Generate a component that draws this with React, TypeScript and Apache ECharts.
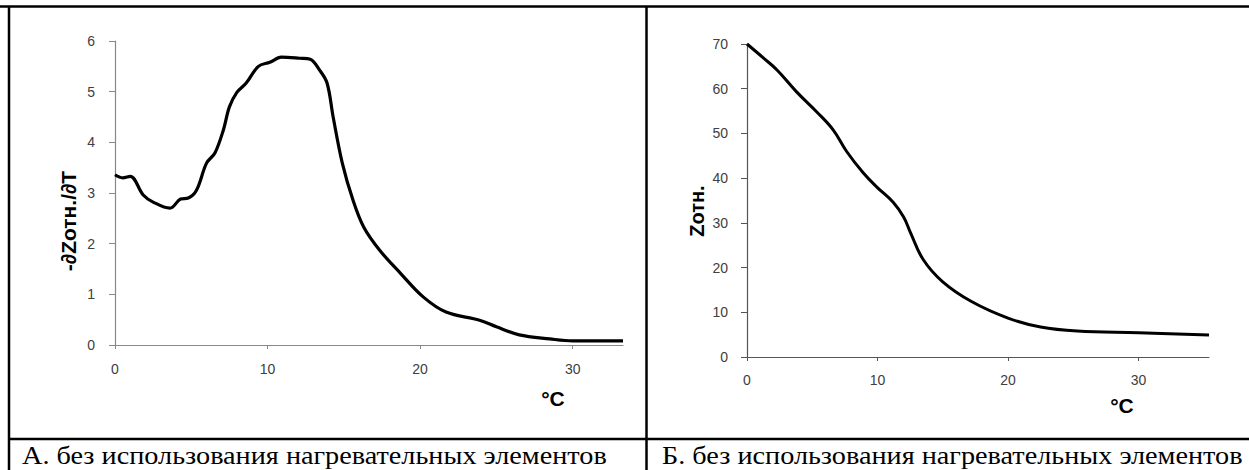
import React, { useEffect, useRef } from "react";
import * as echarts from "echarts";

// Left panel: -dZ/dT vs temperature
const leftT = [0, 0.5, 1, 1.85, 2.5, 3.6, 4.3, 4.8, 5.35, 6.0, 6.55, 7.1, 7.5, 8.0, 8.6, 9.4, 10.15, 10.9, 12.1, 12.8, 13.4, 13.9, 14.3, 14.9, 15.6, 16.3, 17.35, 18.7, 20.2, 21.7, 23.9, 25.0, 26.5, 28.5, 30, 33.3];
const leftV = [3.36, 3.3, 3.33, 2.96, 2.82, 2.7, 2.88, 2.9, 3.06, 3.59, 3.79, 4.24, 4.7, 4.99, 5.17, 5.5, 5.58, 5.68, 5.66, 5.64, 5.43, 5.17, 4.5, 3.59, 2.86, 2.33, 1.87, 1.42, 0.95, 0.65, 0.49, 0.36, 0.2, 0.12, 0.08, 0.08];

// Right panel: Z vs temperature
const rightT = [0, 1.25, 2.3, 3.8, 5.35, 6.6, 7.65, 8.9, 9.95, 11.2, 12.0, 12.5, 13.5, 15.0, 17.2, 20, 22.5, 25.3, 30, 35.4];
const rightV = [70, 66.9, 64.2, 59.3, 54.8, 50.8, 45.9, 41.2, 38.0, 34.6, 31.3, 28.0, 21.8, 16.8, 12.4, 8.7, 6.7, 5.8, 5.4, 4.9];

const xTicks = [0, 10, 20, 30];
const leftYTicks = [0, 1, 2, 3, 4, 5, 6];
const rightYTicks = [0, 10, 20, 30, 40, 50, 60, 70];

const leftYName = "-∂Zотн./∂T";
const rightYName = "Zотн.";
const xName = "°C";
const captionA = "А. без использования нагревательных элементов";
const captionB = "Б. без использования нагревательных элементов";

const SANS = "Liberation Sans, Arial, sans-serif";
const SERIF = "Liberation Serif, Times New Roman, serif";

export default function App() {
  const ref = useRef<HTMLDivElement>(null);
  useEffect(() => {
    if (!ref.current) return;
    const chart = echarts.init(ref.current, null, { renderer: "svg" });
    const lblColor = "#404040";
    const mkX = (gi: number, max: number, axisColor: string, margin: number) => ({
      type: "value",
      gridIndex: gi,
      min: 0,
      max,
      splitLine: { show: false },
      axisLine: { show: true, onZero: false, lineStyle: { color: axisColor, width: 1.2 } },
      axisTick: { show: true, length: 4, lineStyle: { color: axisColor }, customValues: xTicks },
      axisLabel: { color: lblColor, fontFamily: SANS, fontSize: 14, margin, customValues: xTicks },
    });
    const mkY = (gi: number, max: number, ticks: number[], axisColor: string, margin: number) => ({
      type: "value",
      gridIndex: gi,
      min: 0,
      max,
      splitLine: { show: false },
      axisLine: { show: true, lineStyle: { color: axisColor, width: 1.2 } },
      axisTick: { show: true, length: 6, lineStyle: { color: axisColor }, customValues: ticks },
      axisLabel: { color: lblColor, fontFamily: SANS, fontSize: 14, margin, customValues: ticks },
    });
    const lineStyleG = { stroke: "#000", lineWidth: 2.5 };
    chart.setOption({
      animation: false,
      backgroundColor: "#fff",
      grid: [
        { left: 115, top: 41, width: 508, height: 304 },
        { left: 747, top: 44, width: 462, height: 313 },
      ],
      xAxis: [mkX(0, 33.3, "#888", 17), mkX(1, 35.4, "#555", 16)],
      yAxis: [mkY(0, 6, leftYTicks, "#888", 20), mkY(1, 70, rightYTicks, "#555", 19)],
      series: [
        {
          type: "line",
          xAxisIndex: 0,
          yAxisIndex: 0,
          data: leftT.map((t, i) => [t, leftV[i]]),
          smooth: 0.35,
          showSymbol: false,
          lineStyle: { color: "#000", width: 3.2 },
        },
        {
          type: "line",
          xAxisIndex: 1,
          yAxisIndex: 1,
          data: rightT.map((t, i) => [t, rightV[i]]),
          smooth: 0.4,
          showSymbol: false,
          lineStyle: { color: "#000", width: 3 },
        },
      ],
      graphic: [
        { type: "line", shape: { x1: 0, y1: 6.5, x2: 1249, y2: 6.5 }, style: lineStyleG },
        { type: "line", shape: { x1: 9, y1: 6, x2: 9, y2: 470 }, style: lineStyleG },
        { type: "line", shape: { x1: 646.5, y1: 6, x2: 646.5, y2: 470 }, style: lineStyleG },
        { type: "line", shape: { x1: 8, y1: 439, x2: 1249, y2: 439 }, style: lineStyleG },
        {
          type: "text",
          x: 68,
          y: 221,
          rotation: Math.PI / 2,
          style: { text: leftYName, font: `bold 21px ${SANS}`, fill: "#000", align: "center", verticalAlign: "middle" },
        },
        {
          type: "text",
          x: 697,
          y: 211,
          rotation: Math.PI / 2,
          style: { text: rightYName, font: `bold 20px ${SANS}`, fill: "#000", align: "center", verticalAlign: "middle" },
        },
        {
          type: "text",
          x: 553,
          y: 398,
          style: { text: xName, font: `bold 21px ${SANS}`, fill: "#000", align: "center", verticalAlign: "middle" },
        },
        {
          type: "text",
          x: 1122,
          y: 405,
          style: { text: xName, font: `bold 21px ${SANS}`, fill: "#000", align: "center", verticalAlign: "middle" },
        },
        {
          type: "text",
          x: 22,
          y: 456,
          scaleX: 1.13,
          style: { text: captionA, font: `25px ${SERIF}`, fill: "#000", align: "left", verticalAlign: "middle" },
        },
        {
          type: "text",
          x: 662,
          y: 456,
          scaleX: 1.13,
          style: { text: captionB, font: `25px ${SERIF}`, fill: "#000", align: "left", verticalAlign: "middle" },
        },
      ],
    });
    return () => chart.dispose();
  }, []);
  return (
    <div
      ref={ref}
      style={{ position: "absolute", left: 0, top: 0, width: 1249, height: 470, background: "#fff" }}
    />
  );
}
